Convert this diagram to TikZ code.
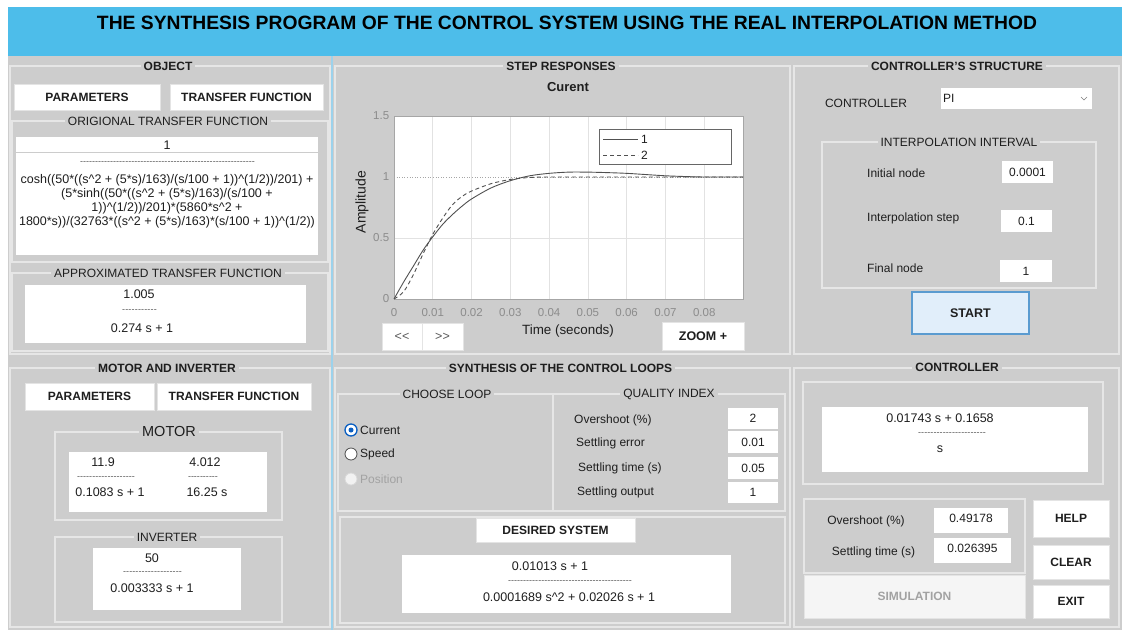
\documentclass[tikz,border=0pt]{standalone}
\usepackage{fontspec}
\setmainfont{Liberation Sans}
\definecolor{bg}{HTML}{CDCDCD}
\definecolor{framec}{HTML}{E6E6E6}
\definecolor{titlebar}{HTML}{4DBDEA}
\definecolor{sepc}{HTML}{9CD2EC}
\definecolor{txt}{HTML}{1E1E1E}
\definecolor{btnline}{HTML}{E4E4E4}
\definecolor{tickc}{HTML}{8C8C8C}
\definecolor{gridc}{HTML}{E2E2E2}
\definecolor{axisc}{HTML}{A6A6A6}
\definecolor{startfill}{HTML}{E1EEFA}
\definecolor{startline}{HTML}{5A9BD0}
\definecolor{radioc}{HTML}{0B5FC2}
\definecolor{disabledc}{HTML}{A2A2A2}
\definecolor{curvec}{HTML}{505050}
\definecolor{dashc}{HTML}{555555}
\newcommand\fs[1]{\fontsize{#1pt}{#1pt}\selectfont}
\newcommand\dl[1]{\hbox to #1pt{\fs{9}\color{dashc}\xleaders\hbox{-}\hfill}}
\newcommand\hatc{\textasciicircum}
\begin{document}
\begin{tikzpicture}[x=1pt,y=-1pt,
  every node/.style={text=txt, inner sep=0pt},
  head/.style={fill=bg, inner xsep=3pt, inner ysep=1pt, font=\bfseries\fs{12}},
  gtitle/.style={fill=bg, inner xsep=3pt, inner ysep=1pt, font=\fs{12}},
  frm/.style={draw=framec, line width=1.2pt},
  wbox/.style={fill=white},
  btn/.style={fill=white, draw=btnline, line width=0.8pt, font=\bfseries\fs{12}},
  lbl/.style={font=\fs{12}},
  tf/.style={font=\fs{12.5}},
  tickl/.style={font=\fs{11.5}, text=tickc},
  valbox/.style={fill=white, font=\fs{12}},
  radiobtn/.style={circle, draw=#1, line width=0.8pt, minimum size=12pt, inner sep=0pt},
]
\useasboundingbox (0,0) rectangle (1122,630);
\fill[white] (0,0) rectangle (1122,630);
\fill[bg] (8,56) rectangle (1122,630);
\fill[titlebar] (8,7) rectangle (1122,56);
\node[font=\bfseries\fs{19.3}, text=black] (title) at (567,23) {THE SYNTHESIS PROGRAM OF THE CONTROL SYSTEM USING THE REAL INTERPOLATION METHOD};

% panel frames
\draw[frm] (10,66) rectangle (330,354);
\draw[frm] (10,368) rectangle (330,627);
\draw[frm] (335,66) rectangle (790,354);
\draw[frm] (335,368) rectangle (790,627);
\draw[frm] (794,66) rectangle (1119,354);
\draw[frm] (794,368) rectangle (1119,627);
\draw[sepc, line width=1.2pt] (332,56) -- (332,630);

%================ OBJECT =================
\node[head] (hobj) at (168,66) {OBJECT};
\node[btn, minimum width=146pt, minimum height=26pt] (par1) at (87,97) {PARAMETERS};
\node[btn, minimum width=153pt, minimum height=26pt] (tfb1) at (246.5,97) {TRANSFER FUNCTION};
\draw[frm] (12,121) rectangle (328,262);
\node[gtitle] (horig) at (168,121) {ORIGIONAL TRANSFER FUNCTION};
\fill[wbox] (16,137) rectangle (318,255);
\draw[gray!40, line width=0.8pt] (16,152.5) -- (318,152.5);
\node[tf] (onum) at (167,145) {1};
\node (odash) at (167.5,163) {\dl{175}};
\node[align=center, font=\fontsize{12.5pt}{14pt}\selectfont] (oden) at (167,201)
 {cosh((50*((s\hatc 2 + (5*s)/163)/(s/100 + 1))\hatc(1/2))/201) +\\
  (5*sinh((50*((s\hatc 2 + (5*s)/163)/(s/100 +\\
  1))\hatc(1/2))/201)*(5860*s\hatc 2 +\\
  1800*s))/(32763*((s\hatc 2 + (5*s)/163)*(s/100 + 1))\hatc(1/2))};
\draw[frm] (12,273) rectangle (328,351);
\node[gtitle] (happ) at (168,273) {APPROXIMATED TRANSFER FUNCTION};
\fill[wbox] (25,285) rectangle (306,343);
\node[tf] (anum) at (139,294) {1.005};
\node (adash) at (139.5,311) {\dl{35}};
\node[tf] (aden) at (142,328) {0.274 s + 1};

%================ MOTOR AND INVERTER =================
\node[head] (hmot) at (167,368) {MOTOR AND INVERTER};
\node[btn, minimum width=129pt, minimum height=27pt] (par2) at (89.5,396.5) {PARAMETERS};
\node[btn, minimum width=154pt, minimum height=27pt] (tfb2) at (234,396.5) {TRANSFER FUNCTION};
\draw[frm] (55,432) rectangle (282,520);
\node[gtitle, font=\fs{14.5}] (hmotor) at (169,432) {MOTOR};
\fill[wbox] (69,452) rectangle (267,512);
\node[tf] (m1n) at (103,462) {11.9};
\node (m1d) at (106,478) {\dl{58}};
\node[tf] (m1den) at (110,492) {0.1083 s + 1};
\node[tf] (m2n) at (205,462) {4.012};
\node (m2d) at (203,478) {\dl{30}};
\node[tf] (m2den) at (207,492) {16.25 s};
\draw[frm] (55,537) rectangle (282,622);
\node[gtitle] (hinv) at (167,537) {INVERTER};
\fill[wbox] (93,548) rectangle (241,610);
\node[tf] (inum) at (152,558) {50};
\node (idash) at (152.5,573) {\dl{59}};
\node[tf] (iden) at (152,588) {0.003333 s + 1};

%================ STEP RESPONSES =================
\node[head] (hstep) at (561,66) {STEP RESPONSES};
\node[font=\bfseries\fs{13}] (ptitle) at (568,87) {Curent};
\coordinate (O) at (394,299);
\begin{scope}[shift={(O)}, x=38.778pt, y=122pt]
  \fill[white] (0,0) rectangle (9,1.5);
  \foreach \i in {1,...,8} \draw[gridc, line width=0.7pt] (\i,0) -- (\i,1.5);
  \draw[gridc, line width=0.7pt] (0,0.5) -- (9,0.5);
  \draw[gray!70, line width=0.6pt, dotted] (0,1) -- (9,1);
  \draw[axisc, line width=0.8pt] (0,0) rectangle (9,1.5);
  \foreach \i/\l in {0/0,1/0.01,2/0.02,3/0.03,4/0.04,5/0.05,6/0.06,7/0.07,8/0.08}
    \node[tickl] (xt\i) at (\i,-0.115) {\l};
  \foreach \v/\l in {0/0,0.5/0.5,1/1,1.5/1.5}
    \node[tickl, anchor=east] (yt\l) at (-0.12,\v) {\l};
  \draw[curvec, line width=0.9pt] plot[smooth] coordinates {(0,0) (0.25,0.14) (0.5,0.27) (0.75,0.40) (1,0.51) (1.25,0.61) (1.5,0.69) (1.75,0.76) (2,0.82) (2.5,0.91) (3,0.97) (3.5,1.01) (4,1.03) (4.5,1.04) (5,1.04) (5.5,1.036) (6,1.03) (6.5,1.02) (7,1.01) (7.5,1.004) (8,1.0) (9,1.0)};
  \draw[curvec, line width=0.9pt, dash pattern=on 4pt off 3pt] plot[smooth] coordinates {(0,0) (0.25,0.06) (0.5,0.2) (0.75,0.37) (1,0.53) (1.25,0.66) (1.5,0.77) (1.75,0.84) (2,0.885) (2.5,0.945) (3,0.98) (3.5,0.996) (4,1.0) (5,1.0) (6,1.0) (7,1.0) (8,1.0) (9,1.0)};
\end{scope}
\node[font=\fs{14}, rotate=90] (ylab) at (362,202) {Amplitude};
\node[font=\fs{13.4}] (xlab) at (568,331) {Time (seconds)};
\draw[fill=white, draw=gray!80!black, line width=0.7pt] (599,129) rectangle (731,164);
\coordinate (l1a) at (603,139.5);
\coordinate (l1b) at (638,139.5);
\coordinate (l2a) at (603,155.5);
\coordinate (l2b) at (638,155.5);
\draw[curvec, line width=0.9pt] (l1a) -- (l1b);
\draw[curvec, line width=0.9pt, dash pattern=on 4pt off 3pt] (l2a) -- (l2b);
\node[lbl, anchor=west] (leg1) at (641,139.5) {1};
\node[lbl, anchor=west] (leg2) at (641,155.5) {2};
\node[btn, font=\fs{12.5}, text=gray!70!black, minimum width=40pt, minimum height=27pt] (prev) at (402,336.5) {{<}{<}};
\node[btn, font=\fs{12.5}, text=gray!70!black, minimum width=41pt, minimum height=27pt] (next) at (442.5,336.5) {{>}{>}};
\node[btn, font=\bfseries\fs{12.5}, minimum width=82pt, minimum height=28pt] (zoom) at (703,336) {ZOOM +};

%================ SYNTHESIS =================
\node[head] (hsyn) at (560.5,368) {SYNTHESIS OF THE CONTROL LOOPS};
\draw[frm] (338,394) rectangle (553,511);
\node[gtitle] (hloop) at (447,394) {CHOOSE LOOP};
\draw[frm] (553,394) rectangle (785,511);
\node[gtitle] (hqual) at (669,394) {QUALITY INDEX};
\node[radiobtn=radioc, fill=white, line width=1.3pt] (rcur) at (351,430) {};
\node[circle, fill=radioc, minimum size=5pt, inner sep=0pt] (rdot) at (rcur) {};
\node[lbl, anchor=west] (lcur) at (360,430) {Current};
\node[radiobtn=gray!60!black, fill=white] (rspd) at (351,454) {};
\node[lbl, anchor=west] (lspd) at (360,454) {Speed};
\node[radiobtn=gray!30, fill=gray!10] (rpos) at (351,479) {};
\node[lbl, anchor=west, text=disabledc] (lpos) at (360,479) {Position};
\node[lbl, anchor=west] (qo) at (574,420) {Overshoot (\%)};
\node[lbl, anchor=west] (qe) at (576,443) {Settling error};
\node[lbl, anchor=west] (qt) at (578,468) {Settling time (s)};
\node[lbl, anchor=west] (qs) at (577,492) {Settling output};
\node[valbox, minimum width=50pt, minimum height=21pt] (vo) at (753,418.5) {2};
\node[valbox, minimum width=50pt, minimum height=22pt] (ve) at (753,442) {0.01};
\node[valbox, minimum width=50pt, minimum height=22pt] (vt) at (753,468) {0.05};
\node[valbox, minimum width=50pt, minimum height=21pt] (vs) at (753,492.5) {1};
\draw[frm] (340,517) rectangle (785,623);
\node[btn, minimum width=159pt, minimum height=24pt] (des) at (555.5,530) {DESIRED SYSTEM};
\fill[wbox] (402,555) rectangle (731,613);
\node[tf] (dnum) at (550,566) {0.01013 s + 1};
\node (ddash) at (570,582) {\dl{124}};
\node[tf] (dden) at (569,597) {0.0001689 s\hatc 2 + 0.02026 s + 1};

%================ CONTROLLER'S STRUCTURE =================
\node[head] (hcs) at (957,66) {CONTROLLER'S STRUCTURE};
\node[lbl] (lctrl) at (866,103) {CONTROLLER};
\fill[wbox] (941,88) rectangle (1092,109);
\node[lbl, anchor=west] (pi) at (943,98.5) {PI};
\draw[gray, line width=0.6pt] (1081,97) -- (1084,100) -- (1087,97);
\draw[frm] (822,142) rectangle (1096,288);
\node[gtitle] (hint) at (959,142) {INTERPOLATION INTERVAL};
\node[lbl, anchor=west] (lin) at (867,173) {Initial node};
\node[lbl, anchor=west] (lis) at (867,218) {Interpolation step};
\node[lbl, anchor=west] (lfn) at (867,268) {Final node};
\node[valbox, minimum width=51pt, minimum height=22pt] (vin) at (1027.5,172) {0.0001};
\node[valbox, minimum width=51pt, minimum height=22pt] (vis) at (1026.5,221) {0.1};
\node[valbox, minimum width=52pt, minimum height=22pt] (vfn) at (1026,271) {1};
\node[fill=startfill, draw=startline, line width=1.2pt, minimum width=117pt, minimum height=42pt, font=\bfseries\fs{12.5}] (start) at (970.5,313) {START};

%================ CONTROLLER =================
\node[head] (hc) at (957,367) {CONTROLLER};
\draw[frm] (803,382) rectangle (1103,484);
\fill[wbox] (822,407) rectangle (1088,472);
\node[tf] (cnum) at (940,418) {0.01743 s + 0.1658};
\node (cdash) at (952,434) {\dl{68}};
\node[tf] (cden) at (940,449) {s};
\draw[frm] (804,499) rectangle (1025,573);
\node[lbl] (lov) at (866,521) {Overshoot (\%)};
\node[lbl] (lst) at (873.5,552) {Settling time (s)};
\fill[white] (934,508) rectangle (1008,533);
\node[lbl] (vov) at (971,518) {0.49178};
\fill[white] (934,538) rectangle (1011,563);
\node[lbl] (vst) at (972.5,548) {0.026395};
\node[fill=gray!8, draw=btnline, line width=0.8pt, minimum width=221pt, minimum height=43pt, font=\bfseries\fs{12}, text=disabledc] (sim) at (914.5,596.5) {SIMULATION};
\node[btn, minimum width=76pt, minimum height=37pt] (help) at (1071,518.5) {HELP};
\node[btn, minimum width=76pt, minimum height=34pt] (clear) at (1071,562) {CLEAR};
\node[btn, minimum width=76pt, minimum height=33pt] (exit) at (1071,601.5) {EXIT};
\end{tikzpicture}
\end{document}
